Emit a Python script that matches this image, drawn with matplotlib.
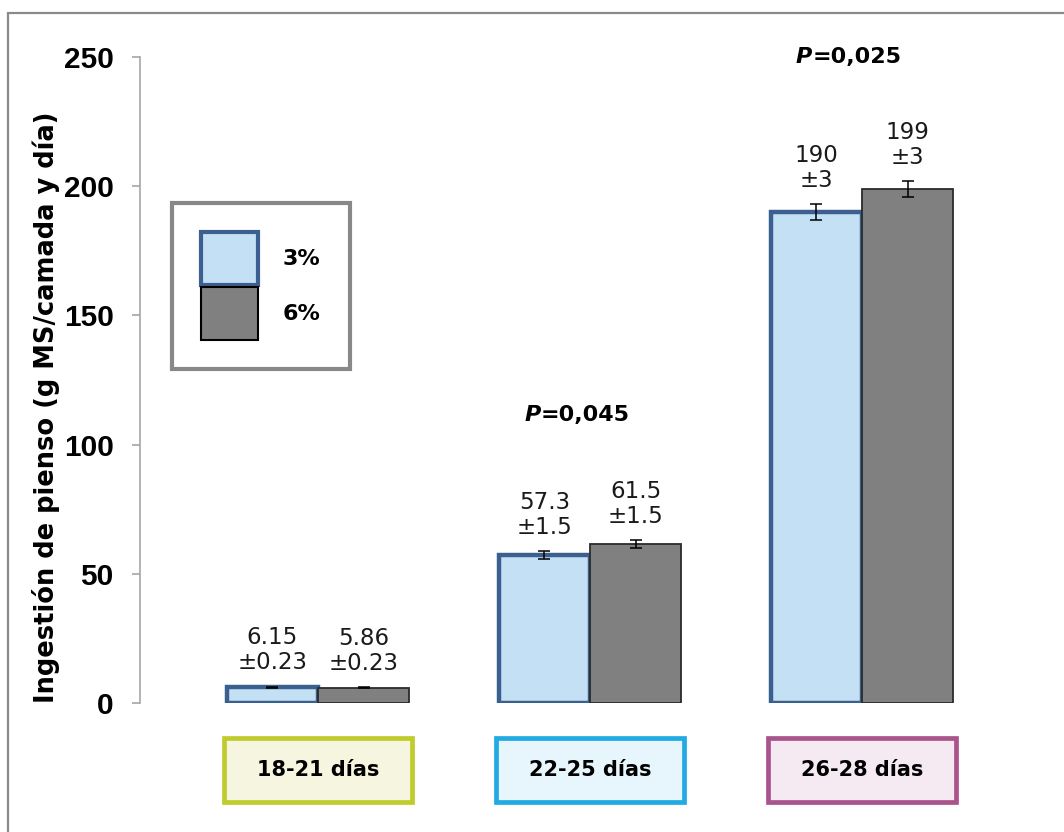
import matplotlib.pyplot as plt
from matplotlib.patches import Patch, Rectangle

# Data
periods = ['18-21 días', '22-25 días', '26-28 días']
series = ['3%', '6%']
intake_3 = [6.15, 57.3, 190]
intake_6 = [5.86, 61.5, 199]
err_3 = [0.23, 1.5, 3]
err_6 = [0.23, 1.5, 3]
labels_3 = ['6.15\n±0.23', '57.3\n±1.5', '190\n±3']
labels_6 = ['5.86\n±0.23', '61.5\n±1.5', '199\n±3']
p_values = ['', '=0,045', '=0,025']

# Styles
blue_fill = '#c3e0f5'
blue_edge = '#3b5f8e'
gray_fill = '#808080'
gray_edge = '#2b2b2b'
box_edges = ['#bfcc2c', '#22aae2', '#a9558c']
box_fills = ['#f6f6e0', '#e7f6fd', '#f6eaf2']

fig = plt.figure(figsize=(10.64, 8.32), dpi=100)
ax = fig.add_axes([140 / 1064, 129 / 832, 860 / 1064, 646 / 832])

# outer frame
fig.patches.append(Rectangle((8 / 1064, -0.1), 1.2, 1.1 - 13 / 832,
                             transform=fig.transFigure, fill=False,
                             edgecolor='#8a8a8a', linewidth=1.6))

x = range(len(periods))
w = 0.335
xl = [i - w / 2 for i in x]
xr = [i + w / 2 for i in x]

ax.bar(xl, intake_3, width=w, color=blue_fill, edgecolor=blue_edge, linewidth=3.2, zorder=2)
ax.bar(xr, intake_6, width=w, color=gray_fill, edgecolor=gray_edge, linewidth=1.3, zorder=2)
ax.errorbar(xl, intake_3, yerr=err_3, fmt='none', ecolor='black', elinewidth=1.1,
            capsize=4, capthick=1.1, zorder=3)
ax.errorbar(xr, intake_6, yerr=err_6, fmt='none', ecolor='black', elinewidth=1.1,
            capsize=4, capthick=1.1, zorder=3)

for i in x:
    ax.annotate(labels_3[i], (xl[i], intake_3[i] + err_3[i]), xytext=(0, 9),
                textcoords='offset points', ha='center', va='bottom',
                fontsize=16.5, linespacing=1.1, color='#1a1a1a')
    ax.annotate(labels_6[i], (xr[i], intake_6[i] + err_6[i]), xytext=(0, 9),
                textcoords='offset points', ha='center', va='bottom',
                fontsize=16.5, linespacing=1.1, color='#1a1a1a')

# P values
p_pos = [None, (0.82, 111.5), (1.817, 250)]
for i in x:
    if not p_values[i]:
        continue
    px, py = p_pos[i]
    ax.text(px, py, 'P', ha='right', va='center', fontsize=16,
            fontweight='bold', fontstyle='italic')
    ax.text(px, py, p_values[i], ha='left', va='center', fontsize=16,
            fontweight='bold')

# period boxes under the bars
for i in x:
    ax.add_patch(Rectangle((i - 0.345, -38.3), 0.69, 24.8, facecolor=box_fills[i],
                           edgecolor=box_edges[i], linewidth=3.4, clip_on=False))
    ax.text(i, -25.9, periods[i], ha='center', va='center', fontsize=15,
            fontweight='bold', clip_on=False)

ax.set_xlim(-0.654, 2.507)
ax.set_ylim(0, 250)
ax.set_yticks([0, 50, 100, 150, 200, 250])
ax.set_xticks([])
for s in ['top', 'right', 'bottom']:
    ax.spines[s].set_visible(False)
ax.spines['left'].set_color('#a6a6a6')
ax.spines['left'].set_linewidth(1.2)
ax.tick_params(axis='y', length=6, width=1.2, color='#a6a6a6', pad=13)
for t in ax.get_yticklabels():
    t.set_fontfamily('Liberation Sans')
    t.set_fontweight('bold')
    t.set_fontsize(21.5)

ax.set_ylabel('Ingestión de pienso (g MS/camada y día)', fontsize=18.5,
              fontweight='bold')
ax.yaxis.set_label_coords(-0.093, 0.458)

handles = [Patch(facecolor=blue_fill, edgecolor=blue_edge, linewidth=3),
           Patch(facecolor=gray_fill, edgecolor='black', linewidth=1.5)]
leg = ax.legend(handles, series, loc='upper left', bbox_to_anchor=(0.037, 0.774),
                borderaxespad=0, prop={'weight': 'bold', 'size': 16},
                handlelength=2.6, handleheight=3.3, handletextpad=1.1,
                labelspacing=0.1, borderpad=1.3, fancybox=False, framealpha=1)
leg.get_frame().set_edgecolor('#888888')
leg.get_frame().set_linewidth(3)

fig.savefig('out.png', dpi=100)
